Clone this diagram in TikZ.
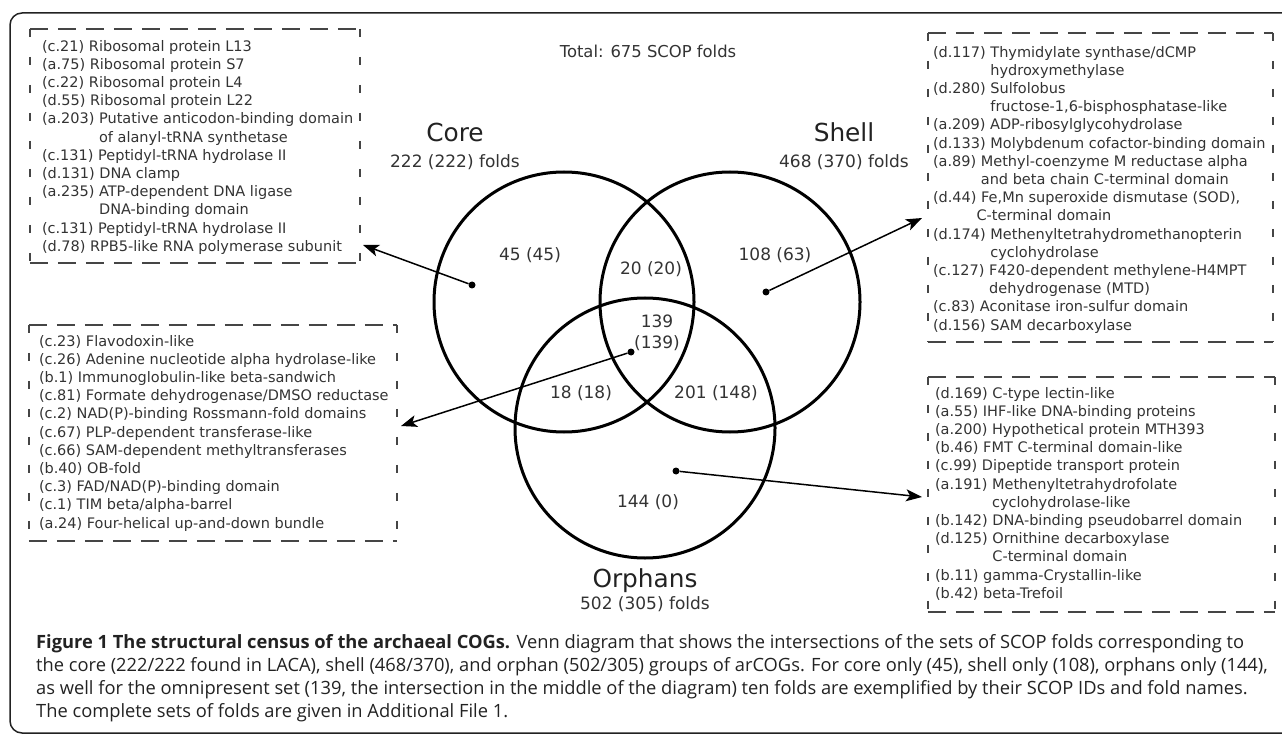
\documentclass[tikz,border=0pt]{standalone}
\usepackage{fontspec}
\setsansfont{DejaVu Sans}
\newfontfamily\capfont{Open Sans}
\usetikzlibrary{arrows.meta, positioning}
\definecolor{inkgray}{HTML}{333333}
\definecolor{dashgray}{HTML}{454545}
\definecolor{framegray}{HTML}{222222}

\begin{document}
\begin{tikzpicture}[
  x=1pt, y=-1pt,
  setring/.style={circle, draw=black, line width=3pt, minimum size=260pt, inner sep=0pt},
  setname/.style={font=\sffamily\fontsize{24.8}{28}\selectfont, text=framegray, inner sep=0pt},
  count/.style={font=\sffamily\fontsize{17}{21}\selectfont, text=inkgray, inner sep=0pt, align=center},
  listframe/.style={inner sep=0pt},
  listtext/.style={font=\sffamily\fontsize{14.5}{18.2}\selectfont, text=inkgray, align=left, inner sep=0pt, anchor=north west},
  hdash/.style={draw=dashgray, line width=1.5pt, dash pattern=on 18pt off 10pt},
  vdash/.style={draw=dashgray, line width=1.5pt, dash pattern=on 8pt off 20pt},
  spot/.style={circle, fill=black, inner sep=0pt, minimum size=7pt},
  pointer/.style={-{Stealth[length=16pt, width=12pt, inset=4pt]}, draw=black, line width=1.5pt}
]
  \useasboundingbox (0,0) rectangle (1282,735);
  \begin{scope}
    \clip (0,0) rectangle (1282,735);
    \draw[framegray, line width=1.5pt, rounded corners=12pt] (10,13) rectangle (1320,733);
  \end{scope}

  % the three sets
  \node[setring] (core) at (564,302) {};
  \node[setring] (shell) at (730,302) {};
  \node[setring] (orphans) at (645,428) {};

  \node[count, font=\sffamily\fontsize{16.4}{20}\selectfont, anchor=base] (total) at (648,58) {Total: 675 SCOP folds};
  \node[setname, anchor=base] (corename) at (455,142) {Core};
  \node[count, below=12pt of corename] (corecount) {222 (222) folds};
  \node[setname, anchor=base] (shellname) at (844,142) {Shell};
  \node[count, below=12pt of shellname] (shellcount) {468 (370) folds};
  \node[setname, anchor=base] (orphanname) at (645,587) {Orphans};
  \node[count, below=4pt of orphanname] (orphancount) {502 (305) folds};

  % region counts
  \node[count] (coreonly) at (530,255) {45 (45)};
  \node[count] (coreshell) at (651,269) {20 (20)};
  \node[count] (shellonly) at (775,255) {108 (63)};
  \node[count] (omni) at (657,333) {139\\(139)};
  \node[count] (coreorphan) at (581,393) {18 (18)};
  \node[count] (shellorphan) at (716,393) {201 (148)};
  \node[count] (orphanonly) at (648,502) {144 (0)};

  % example folds
  \node[listframe, minimum width=330pt, minimum height=234pt] (corebox) at (195,146) {};
  \node[listtext] (corelist) at ([xshift=12pt, yshift=-11pt]corebox.north west) {%
    (c.21) Ribosomal protein L13\\
    (a.75) Ribosomal protein S7\\
    (c.22) Ribosomal protein L4\\
    (d.55) Ribosomal protein L22\\
    (a.203) Putative anticodon-binding domain\\
    \phantom{(a.203) }of alanyl-tRNA synthetase\\
    (c.131) Peptidyl-tRNA hydrolase II\\
    (d.131) DNA clamp\\
    (a.235) ATP-dependent DNA ligase\\
    \phantom{(a.235) }DNA-binding domain\\
    (c.131) Peptidyl-tRNA hydrolase II\\
    (d.78) RPB5-like RNA polymerase subunit};

  \node[listframe, minimum width=368pt, minimum height=216pt] (omnibox) at (213,433) {};
  \node[listtext] (omnilist) at ([xshift=10pt, yshift=-10pt]omnibox.north west) {%
    (c.23) Flavodoxin-like\\
    (c.26) Adenine nucleotide alpha hydrolase-like\\
    (b.1) Immunoglobulin-like beta-sandwich\\
    (c.81) Formate dehydrogenase/DMSO reductase\\
    (c.2) NAD(P)-binding Rossmann-fold domains\\
    (c.67) PLP-dependent transferase-like\\
    (c.66) SAM-dependent methyltransferases\\
    (b.40) OB-fold\\
    (c.3) FAD/NAD(P)-binding domain\\
    (c.1) TIM beta/alpha-barrel\\
    (a.24) Four-helical up-and-down bundle};

  \node[listframe, minimum width=345pt, minimum height=309pt] (shellbox) at (1100.5,187.5) {};
  \node[listtext] (shelllist) at ([xshift=5pt, yshift=-13pt]shellbox.north west) {%
    (d.117) Thymidylate synthase/dCMP\\
    \phantom{(d.117) }hydroxymethylase\\
    (d.280) Sulfolobus\\
    \phantom{(d.280) }fructose-1,6-bisphosphatase-like\\
    (a.209) ADP-ribosylglycohydrolase\\
    (d.133) Molybdenum cofactor-binding domain\\
    (a.89) Methyl-coenzyme M reductase alpha\\
    \phantom{(a.89) }and beta chain C-terminal domain\\
    (d.44) Fe,Mn superoxide dismutase (SOD),\\
    \phantom{(d.44)}C-terminal domain\\
    (d.174) Methenyltetrahydromethanopterin\\
    \phantom{(d.174) }cyclohydrolase\\
    (c.127) F420-dependent methylene-H4MPT\\
    \phantom{(c.127) }dehydrogenase (MTD)\\
    (c.83) Aconitase iron-sulfur domain\\
    (d.156) SAM decarboxylase};

  \node[listframe, minimum width=347pt, minimum height=235pt] (orphanbox) at (1101.5,494.5) {};
  \node[listtext] (orphanlist) at ([xshift=7pt, yshift=-10pt]orphanbox.north west) {%
    (d.169) C-type lectin-like\\
    (a.55) IHF-like DNA-binding proteins\\
    (a.200) Hypothetical protein MTH393\\
    (b.46) FMT C-terminal domain-like\\
    (c.99) Dipeptide transport protein\\
    (a.191) Methenyltetrahydrofolate\\
    \phantom{(a.191) }cyclohydrolase-like\\
    (b.142) DNA-binding pseudobarrel domain\\
    (d.125) Ornithine decarboxylase\\
    \phantom{(d.125) }C-terminal domain\\
    (b.11) gamma-Crystallin-like\\
    (b.42) beta-Trefoil};

  \foreach \b in {corebox, omnibox, shellbox, orphanbox} {
    \draw[hdash] (\b.north west) -- (\b.north east);
    \draw[hdash] (\b.south west) -- (\b.south east);
    \draw[vdash] (\b.north west) -- (\b.south west);
    \draw[vdash] (\b.north east) -- (\b.south east);
  }

  % pointers from the regions
  \node[spot] (coredot) at (472,285) {};
  \node[spot] (shelldot) at (766,292) {};
  \node[spot] (omnidot) at (631,352) {};
  \node[spot] (orphandot) at (676,471) {};
  \coordinate (coretip) at (363,245);
  \coordinate (omnitip) at (401,426);
  \coordinate (shelltip) at (922,218);
  \coordinate (orphantip) at (922,497);
  \draw[pointer] (coredot) -- (coretip);
  \draw[pointer] (omnidot) -- (omnitip);
  \draw[pointer] (shelldot) -- (shelltip);
  \draw[pointer] (orphandot) -- (orphantip);

  \node[anchor=north west, align=left, inner sep=0pt, text=framegray,
        font=\capfont\fontsize{18.3}{23}\selectfont] (caption) at (36,634) {%
    \textbf{Figure 1 The structural census of the archaeal COGs.} Venn diagram that shows the intersections of the sets of SCOP folds corresponding to\\
    the core (222/222 found in LACA), shell (468/370), and orphan (502/305) groups of arCOGs. For core only (45), shell only (108), orphans only (144),\\
    as well for the omnipresent set (139, the intersection in the middle of the diagram) ten folds are exemplified by their SCOP IDs and fold names.\\
    The complete sets of folds are given in Additional File 1.};
\end{tikzpicture}
\end{document}
